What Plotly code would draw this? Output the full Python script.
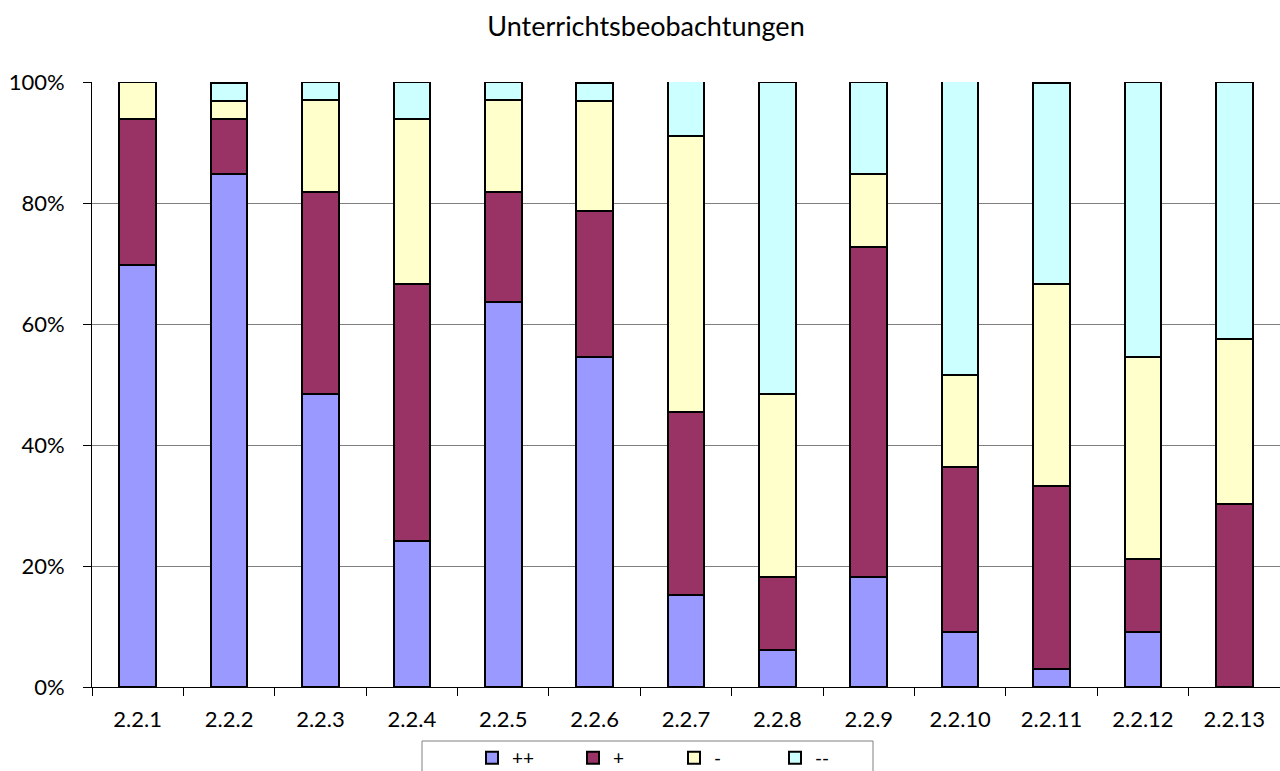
import plotly.graph_objects as go

categories = ["2.2.1", "2.2.2", "2.2.3", "2.2.4", "2.2.5", "2.2.6", "2.2.7",
              "2.2.8", "2.2.9", "2.2.10", "2.2.11", "2.2.12", "2.2.13"]

# percentages
pp = [69.7, 84.8, 48.5, 24.2, 63.6, 54.5, 15.2, 6.1, 18.2, 9.1, 3.0, 9.1, 0.0]
p = [24.2, 9.1, 33.3, 42.4, 18.2, 24.2, 30.3, 12.1, 54.5, 27.3, 30.3, 12.1, 30.3]
m = [6.1, 3.0, 15.2, 27.3, 15.2, 18.2, 45.5, 30.3, 12.1, 15.2, 33.3, 33.3, 27.3]
mm = [0.0, 3.0, 3.0, 6.1, 3.0, 3.0, 9.1, 51.5, 15.2, 48.5, 33.3, 45.5, 42.4]

series_names = ["++", "+", "-", "--"]
series_values = [pp, p, m, mm]
colors = ["#9999FF", "#993366", "#FFFFCC", "#CCFFFF"]

FONT = "Lato"
W, H = 1280, 771
ML, MR, MT, MB = 92, 0, 82, 84
PW, PH = W - ML - MR, H - MT - MB


def px_x(x):
    return (x - ML) / PW


def px_y(y):
    return (H - MB - y) / PH


fig = go.Figure()
for name, vals, col in zip(series_names, series_values, colors):
    fig.add_trace(go.Bar(
        x=categories, y=vals, name=name,
        marker=dict(color=col, line=dict(color="black", width=2)),
        width=0.4,
    ))

fig.update_layout(
    barmode="stack",
    width=W, height=H,
    margin=dict(l=ML, r=MR, t=MT, b=MB, autoexpand=False),
    paper_bgcolor="white", plot_bgcolor="white",
    font=dict(family=FONT, size=22, color="black"),
    title=dict(text="Unterrichtsbeobachtungen", x=646 / W, xref="container",
               xanchor="center", y=1 - 27 / H, yanchor="middle",
               font=dict(family=FONT, size=27, color="black")),
    showlegend=True,
    legend=dict(orientation="h", x=px_x(472), xanchor="left",
                y=px_y(739), yanchor="top",
                bgcolor="rgba(0,0,0,0)", borderwidth=0,
                font=dict(family=FONT, size=19, color="black"),
                itemwidth=30, entrywidth=56, traceorder="normal"),
    shapes=[dict(type="rect", xref="paper", yref="paper",
                 x0=px_x(422), x1=px_x(873), y0=px_y(790), y1=px_y(741),
                 line=dict(color="#808080", width=1), fillcolor="rgba(0,0,0,0)",
                 layer="below")],
)

fig.update_xaxes(
    type="category", range=[-0.5, 12.5],
    showline=True, linecolor="black", linewidth=1,
    ticks="outside", tickson="boundaries", ticklen=8, tickcolor="black",
    ticklabelstandoff=13,
    showgrid=False, tickfont=dict(family=FONT, size=22),
)
fig.update_yaxes(
    range=[0, 100], tickvals=[0, 20, 40, 60, 80, 100],
    ticktext=["0%", "20%", "40%", "60%", "80%", "100%"],
    showline=True, linecolor="black", linewidth=1,
    ticks="outside", ticklen=8, tickcolor="black",
    ticklabelstandoff=14,
    showgrid=True, gridcolor="#7f7f7f", gridwidth=1,
    zeroline=False, tickfont=dict(family=FONT, size=22),
)

fig.write_html("out.html", config={"displayModeBar": False},
               post_script="document.body.style.margin='0px';")
